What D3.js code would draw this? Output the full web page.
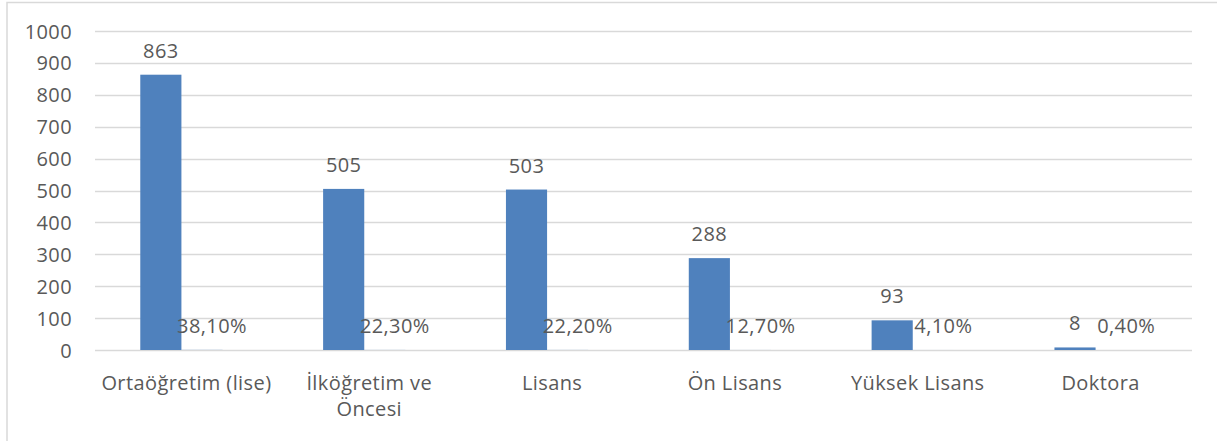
<!DOCTYPE html>
<html><head><meta charset="utf-8">
<script src="https://cdn.jsdelivr.net/npm/d3@7"></script>
<style>
html,body{margin:0;padding:0;background:#fff;}
svg{display:block;}
text{font-family:"Open Sans","Noto Sans",sans-serif;fill:#595959;letter-spacing:0.4px;}
</style></head>
<body>
<svg id="c" width="1217" height="441"></svg>
<script>
const categories = ["Ortaöğretim (lise)", "İlköğretim ve Öncesi", "Lisans", "Ön Lisans", "Yüksek Lisans", "Doktora"];
const counts = [863, 505, 503, 288, 93, 8];
const percents = [0.381, 0.223, 0.222, 0.127, 0.041, 0.004];
const percentLabels = ["38,10%", "22,30%", "22,20%", "12,70%", "4,10%", "0,40%"];
const yTicks = [0, 100, 200, 300, 400, 500, 600, 700, 800, 900, 1000];

(function(){
const svg = d3.select("#c");
const mLeft = 95, mRight = 1192, mTop = 31, mBottom = 350;
const FS = 20;

// chart border
svg.append("rect").attr("x", 7).attr("y", 2.5).attr("width", 1300).attr("height", 500)
  .attr("fill", "none").attr("stroke", "#d9d9d9").attr("stroke-width", 1.5);

const x = d3.scaleBand().domain(categories).range([mLeft, mRight]);
const y = d3.scaleLinear().domain([0, 1000]).range([mBottom, mTop]);
const series = ["count", "pct"];
const groupW = x.bandwidth() * 0.45;
const xs = d3.scaleBand().domain(series).range([0, groupW]);
const shift = -5;

// gridlines
svg.append("g").selectAll("line").data(yTicks).join("line")
  .attr("x1", mLeft).attr("x2", mRight)
  .attr("y1", d => Math.round(y(d)) + 0.5).attr("y2", d => Math.round(y(d)) + 0.5)
  .attr("stroke", "#d9d9d9").attr("stroke-width", 1.5);

// y axis labels
const yAxis = d3.axisLeft(y).tickValues(yTicks).tickFormat(d3.format("d")).tickSize(0).tickPadding(0);
const ya = svg.append("g").attr("transform", "translate(72,0)").call(yAxis);
ya.select(".domain").remove();
ya.selectAll("text").attr("font-size", FS).attr("fill", "#595959")
  .style("font-family", '"Open Sans","Noto Sans",sans-serif').attr("dy", "0.35em");

const gx = d => x(d) + (x.bandwidth() - groupW) / 2 + shift;

// count bars
svg.append("g").selectAll("rect").data(categories).join("rect")
  .attr("x", (d) => gx(d) + xs("count"))
  .attr("y", (d, i) => y(counts[i]))
  .attr("width", xs.bandwidth())
  .attr("height", (d, i) => y(0) - y(counts[i]))
  .attr("fill", "#4f81bd");

// percent bars (tiny on same axis)
svg.append("g").selectAll("rect").data(categories).join("rect")
  .attr("x", (d) => gx(d) + xs("pct"))
  .attr("y", (d, i) => y(percents[i]))
  .attr("width", xs.bandwidth())
  .attr("height", (d, i) => y(0) - y(percents[i]))
  .attr("fill", "#4f81bd");

// count labels
svg.append("g").selectAll("text").data(categories).join("text")
  .attr("x", d => gx(d) + xs("count") + xs.bandwidth() / 2)
  .attr("y", (d, i) => y(counts[i]) - 17)
  .attr("text-anchor", "middle").attr("font-size", FS)
  .text((d, i) => counts[i]);

// percent labels
svg.append("g").selectAll("text").data(categories).join("text")
  .attr("x", d => gx(d) + xs("pct") + xs.bandwidth() / 2 + 10)
  .attr("y", (d, i) => y(percents[i]) - 17)
  .attr("text-anchor", "middle").attr("font-size", FS)
  .text((d, i) => percentLabels[i]);

// x axis labels with wrapping
const xAxis = d3.axisBottom(x).tickSize(0).tickPadding(0);
const xa = svg.append("g").attr("transform", `translate(0,${mBottom})`).call(xAxis);
xa.select(".domain").remove();
xa.selectAll("text").attr("font-size", FS).attr("fill", "#595959")
  .style("font-family", '"Open Sans","Noto Sans",sans-serif')
  .attr("y", 40).attr("dy", 0)
  .each(function(d) {
    const t = d3.select(this);
    t.text(null);
    const words = d.split(" ");
    let line = [], lines = [];
    const probe = t.append("tspan");
    for (const w of words) {
      line.push(w);
      probe.text(line.join(" "));
      if (probe.node().getComputedTextLength() > x.bandwidth() - 4 && line.length > 1) {
        line.pop(); lines.push(line.join(" ")); line = [w];
      }
    }
    lines.push(line.join(" "));
    probe.remove();
    lines.forEach((l, i) => {
      t.append("tspan").attr("x", 0).attr("y", 40 + i * 26).text(l);
    });
  });
})();
</script>
</body></html>
